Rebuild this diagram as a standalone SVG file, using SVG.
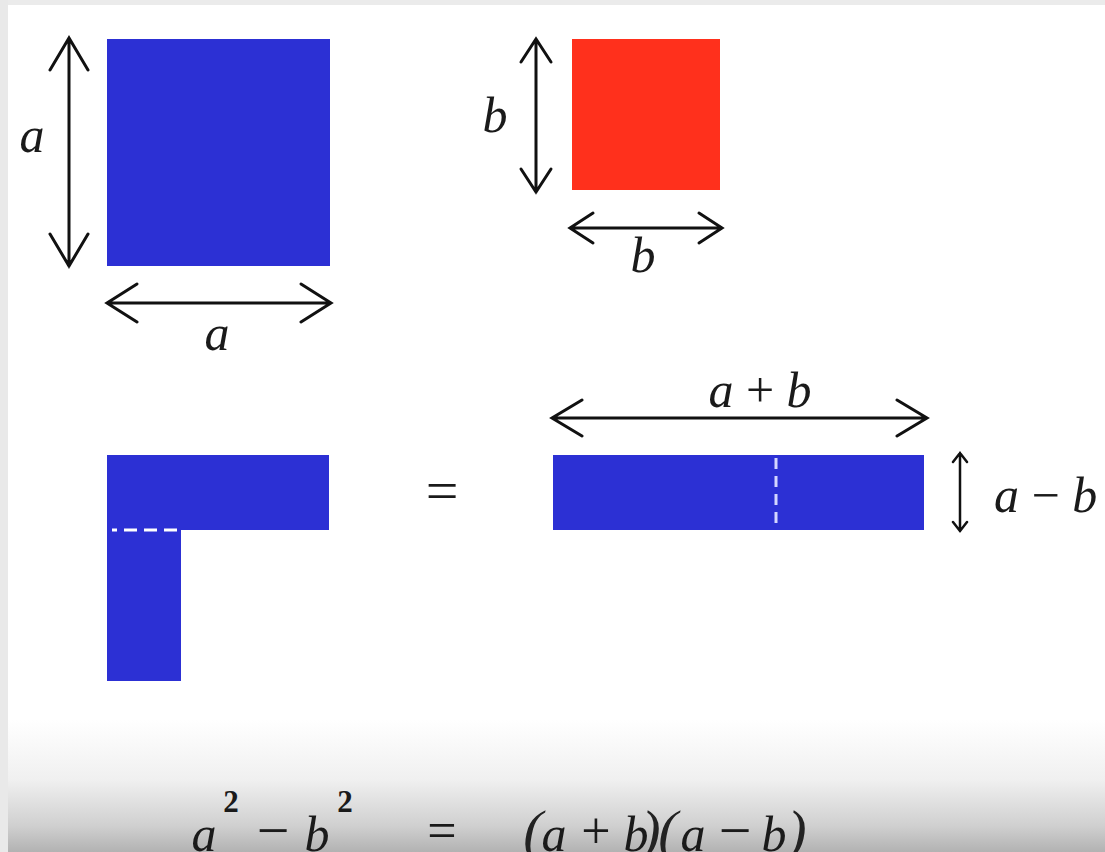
<svg xmlns="http://www.w3.org/2000/svg" width="1105" height="852" viewBox="0 0 1105 852">
  <defs>
    <linearGradient id="shade" x1="0" y1="0" x2="0" y2="1">
      <stop offset="0" stop-color="#ffffff"/>
      <stop offset="0.45" stop-color="#f0f0f0"/>
      <stop offset="0.8" stop-color="#d0d0d0"/>
      <stop offset="1" stop-color="#b2b2b2"/>
    </linearGradient>
    <style>
      .blue { fill: #2c30d4; }
      .red { fill: #ff301c; }
      .arrow { fill: none; stroke: #111111; stroke-width: 3; stroke-linecap: round; stroke-linejoin: miter; }
      .thin { stroke-width: 2.5; }
      .lbl { font-family: "Liberation Serif", "DejaVu Serif", serif; font-style: italic; font-size: 50px; fill: #1a1a1a; }
      .up { font-family: "Liberation Serif", "DejaVu Serif", serif; font-style: normal; fill: #1a1a1a; }
      .sup { font-family: "Liberation Serif", "DejaVu Serif", serif; font-size: 31px; font-weight: bold; fill: #1a1a1a; }
      .par { font-family: "Liberation Serif", "DejaVu Serif", serif; font-style: italic; font-size: 58px; fill: #222222; }
      .dash { stroke: #ffffff; stroke-width: 3; fill: none; }
    </style>
  </defs>

  <g id="background">
    <rect x="0" y="0" width="1105" height="852" fill="#ffffff"/>
    <rect x="0" y="720" width="1105" height="132" fill="url(#shade)"/>
    <rect x="0" y="0" width="1105" height="5" fill="#ebebeb"/>
    <rect x="0" y="0" width="8" height="852" fill="#e9e9e9"/>
  </g>

  <g id="square-a">
    <rect class="blue" x="107" y="39" width="223" height="227"/>
    <text class="lbl" x="32" y="152" text-anchor="middle">a</text>
    <text class="lbl" x="217" y="350" text-anchor="middle">a</text>
  </g>

  <g id="square-b">
    <rect class="red" x="572" y="39" width="148" height="151"/>
    <text class="lbl" x="495" y="132" text-anchor="middle">b</text>
    <text class="lbl" x="643" y="272" text-anchor="middle">b</text>
  </g>

  <g id="l-shape">
    <rect class="blue" x="107" y="455" width="222" height="75"/>
    <rect class="blue" x="107" y="529" width="74" height="152"/>
    <line class="dash" x1="112" y1="530" x2="181" y2="530" stroke-dasharray="13 7" stroke-dashoffset="8"/>
  </g>

  <g id="equals-mid">
    <text class="up" x="442" y="510" text-anchor="middle" font-size="58" fill="#444444">=</text>
  </g>

  <g id="rect-ab">
    <rect class="blue" x="553" y="455" width="371" height="75"/>
    <line class="dash" x1="776" y1="458" x2="776" y2="525" stroke-width="2.5" stroke-dasharray="11 7" style="stroke:#d4d6ff"/>
    <text class="lbl" x="760" y="407" text-anchor="middle">a<tspan class="up"> + </tspan>b</text>
    <text class="lbl" x="994" y="512">a<tspan class="up"> − </tspan>b</text>
  </g>

  <g id="connectors">
    <path class="arrow" d="M69,38 V266 M50,70 L69,38 L88,70 M50,234 L69,266 L88,234"/>
    <path class="arrow" d="M107,303 H331 M137,284 L107,303 L137,322 M301,284 L331,303 L301,322"/>
    <path class="arrow" d="M536,39 V192 M521,62 L536,39 L551,62 M521,169 L536,192 L551,169"/>
    <path class="arrow" d="M570,228 H722 M593,213 L570,228 L593,243 M699,213 L722,228 L699,243"/>
    <path class="arrow" d="M552,418 H927 M582,400 L552,418 L582,436 M897,400 L927,418 L897,436"/>
    <path class="arrow thin" d="M960,453 V531 M953,462 L960,453 L967,462 M953,522 L960,531 L967,522"/>
  </g>

  <g id="formula">
    <text class="lbl" x="204" y="851" text-anchor="middle">a</text>
    <text class="sup" x="231" y="812" text-anchor="middle">2</text>
    <text class="up" x="273" y="850" text-anchor="middle" font-size="58">−</text>
    <text class="lbl" x="317" y="851" text-anchor="middle">b</text>
    <text class="sup" x="345" y="812" text-anchor="middle">2</text>
    <text class="up" x="442" y="848" text-anchor="middle" font-size="52">=</text>
    <text class="par" x="533" y="850" text-anchor="middle">(</text>
    <text class="lbl" x="554" y="851" text-anchor="middle">a</text>
    <text class="up" x="596" y="848" text-anchor="middle" font-size="52">+</text>
    <text class="lbl" x="636" y="851" text-anchor="middle">b</text>
    <text class="par" x="651" y="850" text-anchor="middle">)</text>
    <text class="par" x="668" y="850" text-anchor="middle">(</text>
    <text class="lbl" x="693" y="851" text-anchor="middle">a</text>
    <text class="up" x="735" y="850" text-anchor="middle" font-size="58">−</text>
    <text class="lbl" x="774" y="851" text-anchor="middle">b</text>
    <text class="par" x="797" y="850" text-anchor="middle">)</text>
  </g>
</svg>
